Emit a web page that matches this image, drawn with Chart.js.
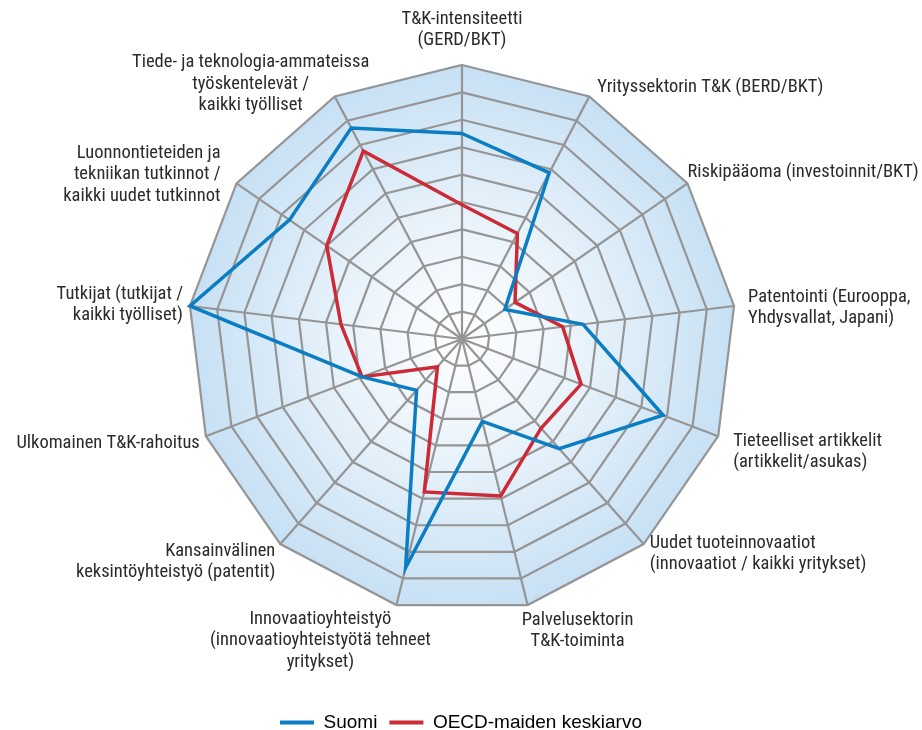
<!DOCTYPE html>
<html>
<head>
<meta charset="utf-8">
<script src="https://cdn.jsdelivr.net/npm/chart.js@4.4.1/dist/chart.umd.min.js"></script>
<style>
  body { margin: 0; background: #fff; }
  #wrap { width: 922px; height: 730px; }
</style>
</head>
<body>
<div id="wrap"><canvas id="radar" width="922" height="730"></canvas></div>
<script>
const categories = [
    ['T&K-intensiteetti', '(GERD/BKT)'],
    ['Yrityssektorin T&K (BERD/BKT)'],
    ['Riskipääoma (investoinnit/BKT)'],
    ['Patentointi (Eurooppa,', 'Yhdysvallat, Japani)'],
    ['Tieteelliset artikkelit', '(artikkelit/asukas)'],
    ['Uudet tuoteinnovaatiot', '(innovaatiot / kaikki yritykset)'],
    ['Palvelusektorin', 'T&K-toiminta'],
    ['Innovaatioyhteistyö', '(innovaatioyhteistyötä tehneet', 'yritykset)'],
    ['Kansainvälinen', 'keksintöyhteistyö (patentit)'],
    ['Ulkomainen T&K-rahoitus'],
    ['Tutkijat (tutkijat /', 'kaikki työlliset)'],
    ['Luonnontieteiden ja', 'tekniikan tutkinnot /', 'kaikki uudet tutkinnot'],
    ['Tiede- ja teknologia-ammateissa', 'työskentelevät /', 'kaikki työlliset']
];

const suomi = [7.5, 6.85, 1.9, 4.45, 7.85, 5.35, 3.1, 8.6, 2.5, 3.9, 10, 7.65, 8.7];
const oecd  = [4.9, 4.35, 2.35, 3.7, 4.65, 4.35, 5.9, 5.75, 1.35, 3.9, 4.45, 6.0, 7.75];

const seriesNames = ['Suomi', 'OECD-maiden keskiarvo'];
const seriesColors = ['#0b7dc3', '#cc2a36'];

// geometry of the web on the page
const webCenter = { x: 462, y: 339 };
const webRadius = 274;

// label anchoring next to each outer corner: text align, dx, dy of first line
const labelPlacement = [
    ['center', 0, -46], ['left', 8, -9], ['left', 0, -11], ['left', 14, -9],
    ['left', 15, 5], ['left', 6, -1], ['center', 50, 15], ['center', -76, 14],
    ['right', -5, 7], ['right', -6, 7], ['right', -7, -12], ['right', -16, -30],
    ['center', -84, -34]
];
const labelFont = '18.5px "Roboto Condensed", "Roboto", sans-serif';
const labelLineHeight = 21.5;

// light blue radial fill behind the web, and the corner labels
const webPlugin = {
    id: 'webDecor',
    beforeDraw(chart) {
        const scale = chart.scales.r;
        const ctx = chart.ctx;
        const n = chart.data.labels.length;
        const r = scale.drawingArea;
        const grad = ctx.createRadialGradient(scale.xCenter, scale.yCenter, 0, scale.xCenter, scale.yCenter, r);
        grad.addColorStop(0, '#ffffff');
        grad.addColorStop(0.4, '#ebf4fb');
        grad.addColorStop(1, '#c6e0f4');
        ctx.save();
        ctx.beginPath();
        for (let i = 0; i < n; i++) {
            const p = scale.getPointPosition(i, r);
            if (i === 0) ctx.moveTo(p.x, p.y); else ctx.lineTo(p.x, p.y);
        }
        ctx.closePath();
        ctx.fillStyle = grad;
        ctx.fill();
        ctx.restore();
    },
    afterDraw(chart) {
        const scale = chart.scales.r;
        const ctx = chart.ctx;
        ctx.save();
        ctx.font = labelFont;
        ctx.fillStyle = '#2b2b2b';
        ctx.textBaseline = 'middle';
        chart.data.labels.forEach((lines, i) => {
            const p = scale.getPointPosition(i, scale.drawingArea);
            const [align, dx, dy] = labelPlacement[i];
            ctx.textAlign = align;
            lines.forEach((line, k) => {
                ctx.fillText(line, p.x + dx, p.y + dy + k * labelLineHeight);
            });
        });
        ctx.restore();
    }
};

new Chart(document.getElementById('radar'), {
    type: 'radar',
    data: {
        labels: categories,
        datasets: [
            { label: seriesNames[0], data: suomi, borderColor: seriesColors[0], backgroundColor: seriesColors[0], borderWidth: 3.5, fill: false, pointRadius: 0 },
            { label: seriesNames[1], data: oecd, borderColor: seriesColors[1], backgroundColor: seriesColors[1], borderWidth: 3.5, fill: false, pointRadius: 0 }
        ]
    },
    options: {
        responsive: false,
        animation: false,
        layout: { padding: { top: 0, bottom: -12, left: 0, right: 0 } },
        elements: { line: { tension: 0, borderJoinStyle: 'miter' } },
        scales: {
            r: {
                min: 0,
                max: 10,
                ticks: { stepSize: 1, display: false },
                grid: { color: '#959595', lineWidth: 2.2 },
                angleLines: { color: '#959595', lineWidth: 2.2 },
                pointLabels: { display: false },
                afterFit(scale) {
                    scale.xCenter = webCenter.x;
                    scale.yCenter = webCenter.y;
                    scale.drawingArea = webRadius;
                }
            }
        },
        plugins: {
            tooltip: { enabled: false },
            legend: {
                position: 'bottom',
                labels: {
                    color: '#2b2b2b',
                    boxWidth: 34,
                    boxHeight: 4,
                    padding: 12,
                    font: { family: '"Liberation Sans", Arial, sans-serif', size: 19 },
                    generateLabels(chart) {
                        return chart.data.datasets.map((ds, i) => ({
                            text: ds.label,
                            fillStyle: ds.borderColor,
                            strokeStyle: ds.borderColor,
                            lineWidth: 0,
                            hidden: false,
                            datasetIndex: i
                        }));
                    }
                }
            }
        }
    },
    plugins: [webPlugin]
});
</script>
</body>
</html>
